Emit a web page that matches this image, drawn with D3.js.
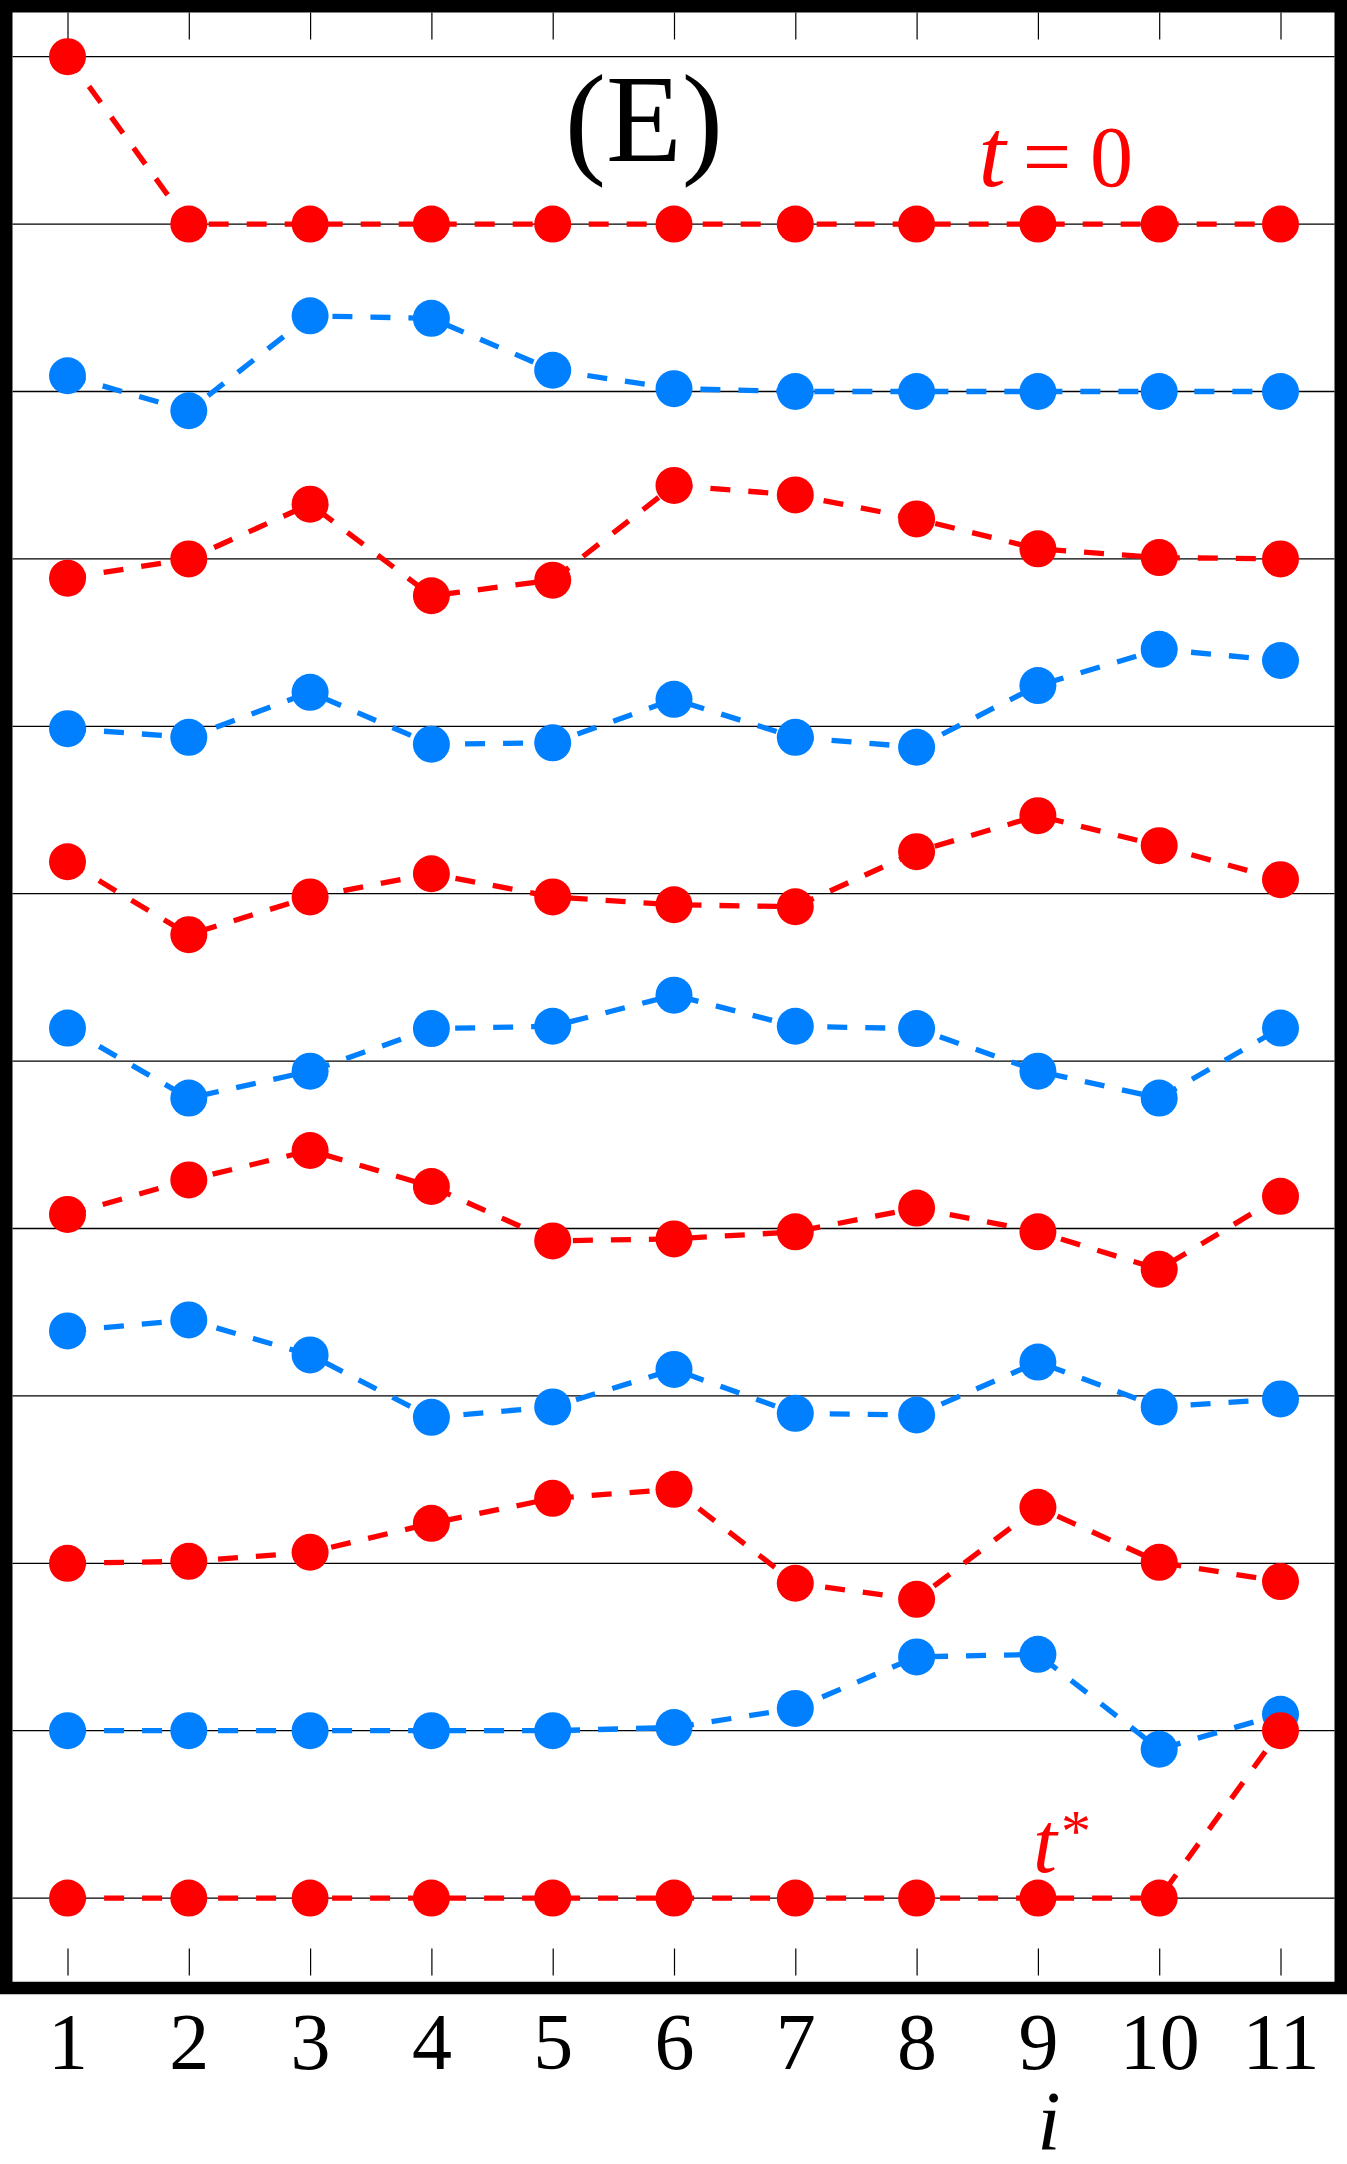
<!DOCTYPE html>
<html>
<head>
<meta charset="utf-8">
<script src="https://d3js.org/d3.v7.min.js"></script>
<style>
body { margin: 0; background: #fff; }
text { font-family: "Liberation Serif", "Times New Roman", serif; }
</style>
</head>
<body>
<div class="container"></div>
<script>
// site index i along the chain
var sites = [1, 2, 3, 4, 5, 6, 7, 8, 9, 10, 11];
var tickLabels = ["1", "2", "3", "4", "5", "6", "7", "8", "9", "10", "11"];

// one row per time step, top (t = 0) to bottom (t*), in units of row spacing
var row0  = [1, 0, 0, 0, 0, 0, 0, 0, 0, 0, 0];
var row1  = [0.094, -0.115, 0.452, 0.437, 0.127, 0.017, 0, 0, 0, 0, 0];
var row2  = [-0.115, 0, 0.327, -0.22, -0.127, 0.439, 0.382, 0.239, 0.06, 0.008, 0];
var row3  = [-0.014, -0.066, 0.203, -0.107, -0.099, 0.161, -0.066, -0.125, 0.243, 0.46, 0.393];
var row4  = [0.191, -0.245, -0.019, 0.119, -0.019, -0.066, -0.078, 0.251, 0.466, 0.287, 0.084];
var row5  = [0.197, -0.221, -0.06, 0.194, 0.208, 0.394, 0.208, 0.194, -0.06, -0.221, 0.197];
var row6  = [0.084, 0.29, 0.466, 0.251, -0.074, -0.062, -0.02, 0.122, -0.02, -0.244, 0.192];
var row7  = [0.388, 0.454, 0.245, -0.128, -0.066, 0.158, -0.104, -0.114, 0.202, -0.066, -0.018];
var row8  = [0, 0.012, 0.066, 0.239, 0.388, 0.442, -0.119, -0.215, 0.335, 0.006, -0.109];
var row9  = [0, 0, 0, 0, 0, 0.019, 0.133, 0.441, 0.456, -0.111, 0.098];
var row10 = [0, 0, 0, 0, 0, 0, 0, 0, 0, 0, 1];

var rows = [row0, row1, row2, row3, row4, row5, row6, row7, row8, row9, row10];
var rowColors = ["#ff0000", "#0080ff", "#ff0000", "#0080ff", "#ff0000", "#0080ff",
                 "#ff0000", "#0080ff", "#ff0000", "#0080ff", "#ff0000"];

var W = 1347, H = 2164;
var frame = {left: 12.5, right: 1334.5, top: 12.5, bottom: 1975.5};

var svg = d3.select('.container')
    .append('svg').attr('width', W).attr('height', H)
    .style('background', '#fff');

var x = d3.scaleLinear().domain([1, 11]).range([67.5, 1280.5]);
var y = d3.scaleLinear().domain([0, -11]).range([56.7, 1898.1]);

// horizontal reference line for every level
svg.append('g').selectAll('line')
    .data(d3.range(0, 12))
  .enter().append('line')
    .attr('x1', frame.left).attr('x2', frame.right)
    .attr('y1', function(d) { return y(-d); })
    .attr('y2', function(d) { return y(-d); })
    .attr('stroke', '#000').attr('stroke-width', 1.3);

// inward ticks, top and bottom
var topTicks = svg.append('g')
    .attr('transform', 'translate(0,' + frame.top + ')')
    .call(d3.axisBottom(x).tickValues(sites).tickSize(27).tickFormat(''));
var bottomTicks = svg.append('g')
    .attr('transform', 'translate(0,' + frame.bottom + ')')
    .call(d3.axisTop(x).tickValues(sites).tickSize(27).tickFormat(''));
[topTicks, bottomTicks].forEach(function(g) {
  g.select('.domain').remove();
  g.selectAll('line').attr('stroke', '#000').attr('stroke-width', 1.2);
});

// tick labels under the frame
var labels = svg.append('g')
    .attr('transform', 'translate(0,1988)')
    .call(d3.axisBottom(x).tickValues(sites).tickSize(0)
      .tickFormat(function(d, i) { return tickLabels[i]; }));
labels.select('.domain').remove();
labels.selectAll('text')
    .attr('dy', null).attr('y', 81)
    .attr('font-size', 80).attr('font-family', '"Liberation Serif", "Times New Roman", serif')
    .attr('fill', '#000');

// rows: dashed line then dots
rows.forEach(function(vals, r) {
  var line = d3.line()
    .x(function(d, i) { return x(sites[i]); })
    .y(function(d) { return y(d - (r + 1)); });

  var g = svg.append('g');
  g.append('path')
    .attr('d', line(vals))
    .attr('fill', 'none')
    .attr('stroke', rowColors[r])
    .attr('stroke-width', 5.3)
    .attr('stroke-dasharray', '20,18')
    .attr('stroke-dashoffset', 1.4);

  g.selectAll('circle').data(vals).enter().append('circle')
    .attr('cx', function(d, i) { return x(sites[i]); })
    .attr('cy', function(d) { return y(d - (r + 1)); })
    .attr('r', 18.5)
    .style('fill', rowColors[r]);
});

// frame
svg.append('rect')
    .attr('x', 6.25).attr('y', 6.25)
    .attr('width', W - 12.5).attr('height', frame.bottom + 6.25)
    .attr('fill', 'none').attr('stroke', '#000').attr('stroke-width', 12.5);

// annotations
svg.append('text').text('(E)')
    .attr('x', 644).attr('y', 161)
    .attr('text-anchor', 'middle').attr('font-size', 124).attr('fill', '#000');

svg.append('text').text('t')
    .attr('x', 992).attr('y', 186).attr('text-anchor', 'middle')
    .attr('font-size', 98).attr('font-style', 'italic').attr('fill', '#ff0000');
svg.append('text').text('=')
    .attr('x', 1047).attr('y', 186).attr('text-anchor', 'middle')
    .attr('font-size', 86).attr('fill', '#ff0000');
svg.append('text').text('0')
    .attr('x', 1111.5).attr('y', 186).attr('text-anchor', 'middle')
    .attr('font-size', 86).attr('fill', '#ff0000');

svg.append('text').text('t')
    .attr('x', 1045).attr('y', 1872).attr('text-anchor', 'middle')
    .attr('font-size', 86).attr('font-style', 'italic').attr('fill', '#ff0000');
svg.append('text').text('*')
    .attr('x', 1076).attr('y', 1851).attr('text-anchor', 'middle')
    .attr('font-size', 60).attr('fill', '#ff0000');

svg.append('text').text('i')
    .attr('x', 1049).attr('y', 2150).attr('text-anchor', 'middle')
    .attr('font-size', 84).attr('font-style', 'italic').attr('fill', '#000');
</script>
</body>
</html>
